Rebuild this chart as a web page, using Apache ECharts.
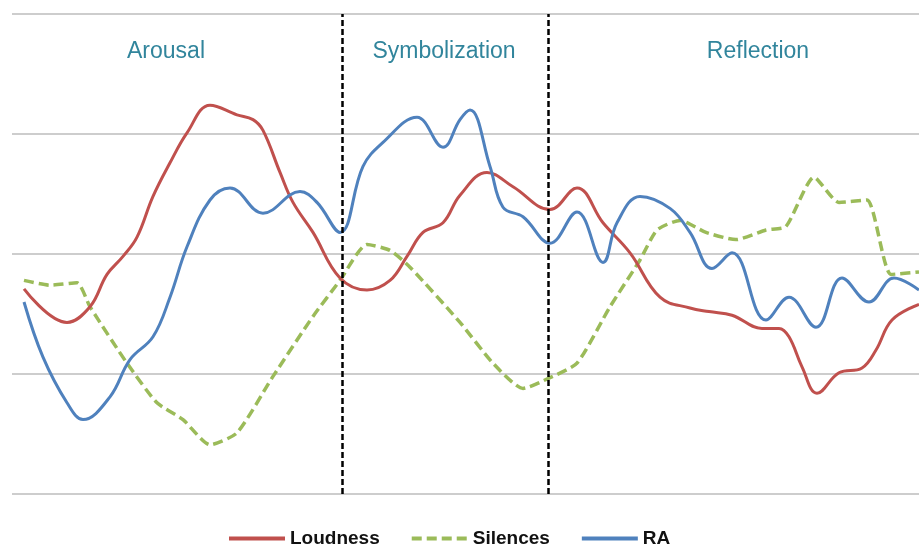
<!DOCTYPE html>
<html>
<head>
<meta charset="utf-8">
<script src="https://cdn.jsdelivr.net/npm/echarts@6/dist/echarts.min.js"></script>
<style>
  html, body { margin: 0; padding: 0; background: #fff; }
  #chart { width: 919px; height: 547px; }
</style>
</head>
<body>
<div id="chart"></div>
<script>
// phase labels and boundaries (time units)
const phases = ["Arousal", "Symbolization", "Reflection"];
const phaseBounds = [330, 536];

// [time, value]
const loudness = [
  [12, 1.71], [55, 1.43], [78, 1.56], [95, 1.83], [111, 1.98], [125, 2.14],
  [141, 2.48], [158, 2.76], [175, 3.01], [198, 3.24], [225, 3.16], [241, 3.12],
  [251, 3.03], [268, 2.68], [281, 2.43], [301, 2.18], [328, 1.80], [355, 1.70],
  [378, 1.78], [395, 1.98], [411, 2.18], [431, 2.26], [448, 2.49], [475, 2.68],
  [501, 2.56], [538, 2.37], [565, 2.55], [591, 2.26], [618, 2.01], [648, 1.64],
  [678, 1.55], [697, 1.52], [720, 1.49], [750, 1.38], [767, 1.38], [777, 1.31],
  [790, 1.06], [805, 0.84], [827, 1.01], [850, 1.05], [864, 1.20], [880, 1.45],
  [907, 1.58]
];

const silences = [
  [12, 1.78], [38, 1.74], [65, 1.76], [78, 1.56], [115, 1.09], [145, 0.76],
  [171, 0.62], [198, 0.41], [225, 0.51], [261, 0.98], [301, 1.48], [328, 1.78],
  [355, 2.08], [378, 2.03], [398, 1.89], [448, 1.43], [481, 1.09], [511, 0.88],
  [538, 0.97], [565, 1.09], [598, 1.56], [628, 1.95], [645, 2.20], [668, 2.28],
  [694, 2.18], [724, 2.12], [754, 2.20], [774, 2.23], [802, 2.64], [827, 2.43],
  [855, 2.45], [879, 1.83], [907, 1.85]
];

const ra = [
  [12, 1.60], [31, 1.14], [55, 0.76], [71, 0.62], [98, 0.81], [118, 1.12],
  [141, 1.31], [158, 1.64], [175, 2.06], [198, 2.45], [218, 2.55], [251, 2.34],
  [288, 2.52], [305, 2.43], [328, 2.18], [351, 2.73], [371, 2.93], [405, 3.14],
  [431, 2.89], [448, 3.12], [458, 3.20], [478, 2.73], [491, 2.39], [511, 2.31],
  [538, 2.09], [565, 2.35], [591, 1.93], [605, 2.26], [628, 2.48], [658, 2.38],
  [678, 2.18], [700, 1.88], [720, 2.01], [754, 1.45], [777, 1.64], [804, 1.39],
  [830, 1.80], [857, 1.60], [882, 1.80], [907, 1.70]
];

const chart = echarts.init(document.getElementById("chart"));

const phaseText = (text, x) => ({
  type: "text",
  x: x,
  y: 52,
  style: {
    text: text,
    fontFamily: "Liberation Sans, Arial, sans-serif",
    fontSize: 23,
    fill: "#31859c",
    align: "center",
    verticalAlign: "middle"
  }
});

chart.setOption({
  animation: false,
  grid: { left: 12, right: 0, top: 14, bottom: 53 },
  xAxis: {
    type: "value",
    min: 0,
    max: 907,
    axisLine: { show: false },
    axisTick: { show: false },
    axisLabel: { show: false },
    splitLine: { show: false }
  },
  yAxis: {
    type: "value",
    min: 0,
    max: 4,
    interval: 1,
    axisLine: { show: false },
    axisTick: { show: false },
    axisLabel: { show: false },
    splitLine: { lineStyle: { color: "#bdbdbd", width: 1.5 } }
  },
  legend: {
    left: 227,
    top: 529,
    padding: 0,
    itemWidth: 56,
    itemHeight: 14,
    itemGap: 30,
    itemStyle: { opacity: 0, borderWidth: 0 },
    lineStyle: { width: 4 },
    textStyle: {
      fontFamily: "Liberation Sans, Arial, sans-serif",
      fontSize: 19,
      fontWeight: "bold",
      color: "#111"
    },
    data: ["Loudness", "Silences", "RA"]
  },
  graphic: [
    phaseText(phases[0], 166),
    phaseText(phases[1], 444),
    phaseText(phases[2], 758)
  ],
  series: [
    {
      name: "Loudness",
      type: "line",
      data: loudness,
      smooth: 0.4,
      symbol: "none",
      lineStyle: { color: "#c0504d", width: 3 },
      itemStyle: { color: "#c0504d" },
      z: 3,
      markLine: {
        silent: true,
        symbol: "none",
        label: { show: false },
        lineStyle: { color: "#000", width: 2.5, type: [6, 3] },
        data: phaseBounds.map(b => ({ xAxis: b }))
      }
    },
    {
      name: "Silences",
      type: "line",
      data: silences,
      smooth: 0.2,
      symbol: "none",
      lineStyle: { color: "#9bbb59", width: 3.5, type: [10, 5] },
      itemStyle: { color: "#9bbb59" },
      z: 2
    },
    {
      name: "RA",
      type: "line",
      data: ra,
      smooth: 0.4,
      symbol: "none",
      lineStyle: { color: "#4f81bd", width: 3 },
      itemStyle: { color: "#4f81bd" },
      z: 4
    }
  ]
});
</script>
</body>
</html>
